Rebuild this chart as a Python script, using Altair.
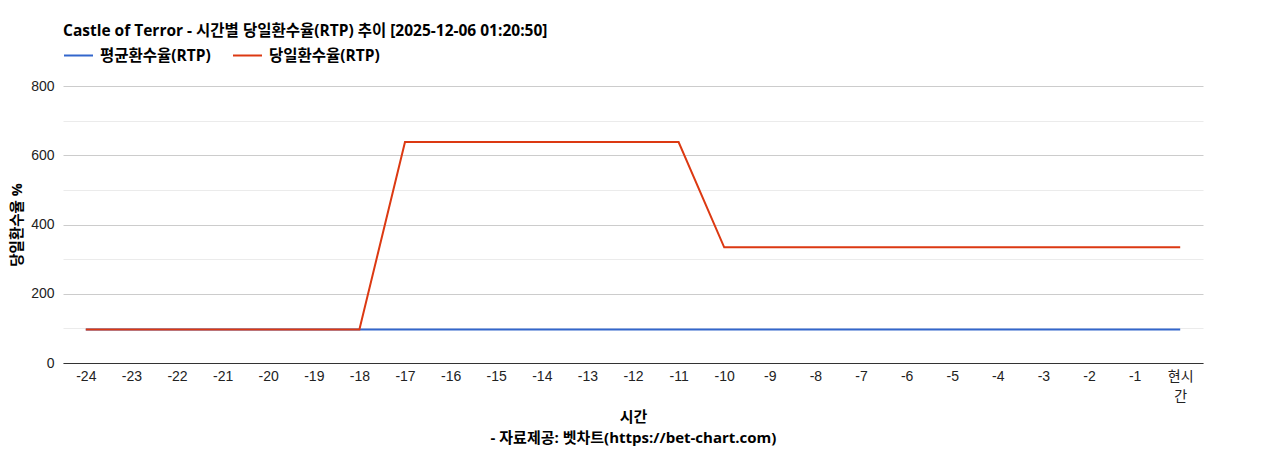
import altair as alt
import pandas as pd

# hours back from now, last one is "현시간"
hours = ["-24", "-23", "-22", "-21", "-20", "-19", "-18", "-17", "-16", "-15",
         "-14", "-13", "-12", "-11", "-10", "-9", "-8", "-7", "-6", "-5",
         "-4", "-3", "-2", "-1", "현시간"]

avg_rtp = [97] * 25
day_rtp = [97, 97, 97, 97, 97, 97, 97,
           638, 638, 638, 638, 638, 638, 638,
           334, 334, 334, 334, 334, 334, 334, 334, 334, 334, 334]

series_names = ["평균환수율(RTP)", "당일환수율(RTP)"]
series_colors = ["#3366cc", "#dc3912"]

df = pd.concat([
    pd.DataFrame({"시간": hours, "rtp": avg_rtp, "series": series_names[0]}),
    pd.DataFrame({"시간": hours, "rtp": day_rtp, "series": series_names[1]}),
])

FONT = "Liberation Sans, Arial, Noto Sans CJK KR"
BOLD_FONT = "Open Sans, Noto Sans CJK KR"

chart = alt.Chart(df).mark_line(strokeWidth=2).encode(
    x=alt.X("시간:O", sort=hours, scale=alt.Scale(paddingOuter=0.5),
            axis=alt.Axis(
                title=["시간", "- 자료제공: 벳차트(https://bet-chart.com)"],
                labelAngle=0, ticks=False, domainColor="#333333",
                labelFontSize=14, labelColor="#222222", labelPadding=6,
                labelLineHeight=20,
                labelExpr="datum.label == '현시간' ? ['현시', '간'] : datum.label",
                titleFont=BOLD_FONT, titleFontSize=15, titleFontWeight="bold",
                titleColor="#000000", titleLineHeight=21, titleY=46,
                titleBaseline="top")),
    y=alt.Y("rtp:Q", scale=alt.Scale(domain=[0, 800], nice=False),
            axis=alt.Axis(
                title="당일환수율 %", values=list(range(0, 801, 100)),
                labelExpr="datum.value % 200 == 0 ? datum.label : ''",
                gridColor=alt.condition("datum.value % 200 == 0",
                                        alt.value("#cccccc"), alt.value("#ebebeb")),
                domain=False, ticks=False, labelFontSize=14,
                labelColor="#222222", labelPadding=9,
                titleFont=BOLD_FONT, titleFontSize=14.5, titleFontWeight="bold",
                titleColor="#000000", titleX=-39)),
    color=alt.Color("series:N",
                    scale=alt.Scale(domain=series_names, range=series_colors),
                    legend=alt.Legend(
                        title=None, orient="none", legendX=0, legendY=-46,
                        direction="horizontal", symbolType="stroke",
                        symbolSize=841, symbolStrokeWidth=2,
                        labelFont=BOLD_FONT, labelFontSize=15.5,
                        labelFontWeight="bold", labelColor="#000000",
                        labelOffset=6, columnPadding=18)),
).properties(
    width=1140,
    height=277,
    title=alt.TitleParams(
        "Castle of Terror - 시간별 당일환수율(RTP) 추이 [2025-12-06 01:20:50]",
        anchor="start", frame="group", font=BOLD_FONT, fontSize=15.5,
        fontWeight="bold", color="#000000", offset=1),
    autosize=alt.AutoSizeParams(type="none"),
    padding={"left": 55, "top": 78, "right": 57, "bottom": 85},
).configure(
    font=FONT,
).configure_view(
    stroke=None,
)

chart.save("out.html", embed_options={"renderer": "svg", "actions": False})
